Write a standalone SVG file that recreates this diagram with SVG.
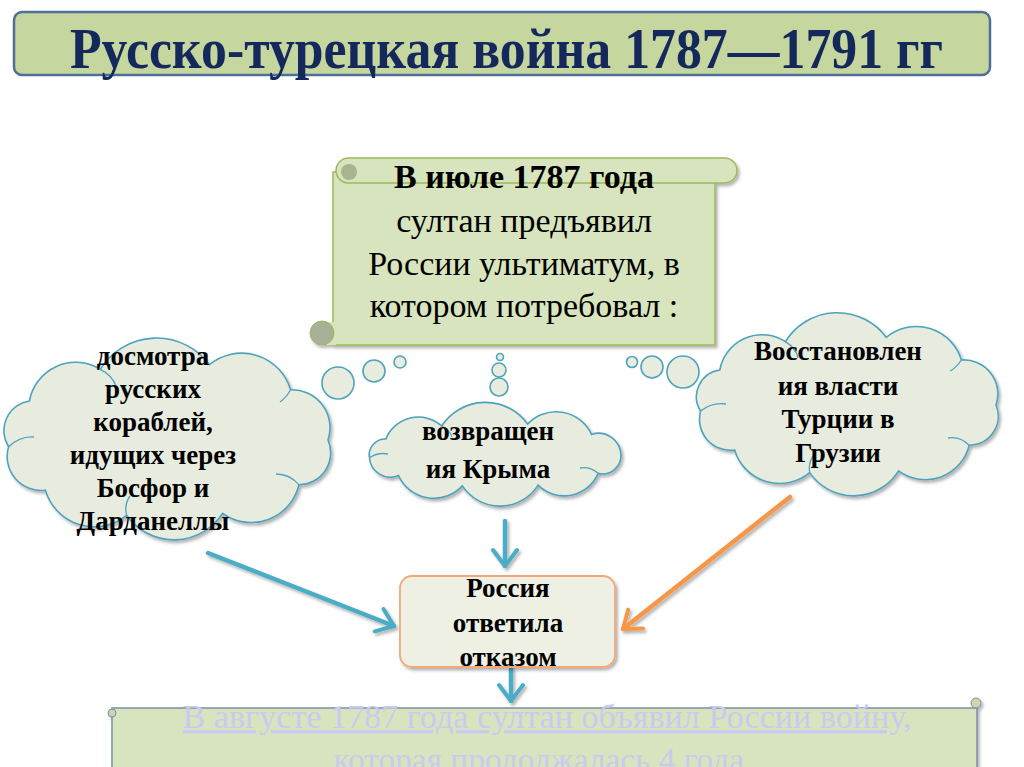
<svg xmlns="http://www.w3.org/2000/svg" width="1024" height="767" viewBox="0 0 1024 767">
<defs>
<filter id="sh" x="-10%" y="-10%" width="130%" height="130%"><feDropShadow dx="2" dy="2.5" stdDeviation="1.5" flood-color="#000" flood-opacity="0.3"/></filter>
<marker id="ab" markerWidth="8" markerHeight="10" refX="7" refY="5" orient="auto" markerUnits="userSpaceOnUse" viewBox="0 0 8 10" overflow="visible">
<path d="M-9,-7 L7,5 L-9,17" fill="none" stroke="#4bacc6" stroke-width="4" stroke-linecap="round" stroke-linejoin="round"/>
</marker>
<marker id="ao" markerWidth="8" markerHeight="10" refX="7" refY="5" orient="auto" markerUnits="userSpaceOnUse" viewBox="0 0 8 10" overflow="visible">
<path d="M-9,-7 L7,5 L-9,17" fill="none" stroke="#f79646" stroke-width="4" stroke-linecap="round" stroke-linejoin="round"/>
</marker>
</defs>
<style>
.cloud{fill:#e8ecdf;stroke:#4ea3bd;stroke-width:1.6}
.inner{fill:none;stroke:#4ea3bd;stroke-width:1.3}
.ct{font-family:"Liberation Serif","Times New Roman",serif;font-weight:bold;font-size:27px;fill:#000;text-anchor:middle}
.st{font-family:"Liberation Serif","Times New Roman",serif;font-size:34px;fill:#000;text-anchor:middle}
.scroll{fill:#d7e4bd;stroke:#9bbb59;stroke-width:1.5}
.conn{fill:none;stroke-width:4.5;stroke-linecap:round}
</style>
<rect width="1024" height="767" fill="#fff"/>

<g id="title">
<rect x="14" y="12" width="976" height="63" rx="8" fill="#c6d69f" stroke="#4f6f99" stroke-width="2.5"/>
<text x="70" y="68" font-family="Liberation Serif,'Times New Roman',serif" font-weight="bold" font-size="58" fill="#14285c" textLength="873" lengthAdjust="spacingAndGlyphs">Русско-турецкая война 1787—1791 гг</text>
</g>

<g id="ultimatum">
<g filter="url(#sh)">
<rect x="333" y="172" width="382" height="173" class="scroll"/>
<rect x="336" y="158" width="401" height="25" rx="12.5" class="scroll"/>
<circle cx="349" cy="172" r="8" fill="#a9b58f"/>
<rect x="322" y="322" width="14" height="23" fill="#d7e4bd"/>
<circle cx="322" cy="333" r="12" fill="#a8af97" stroke="#9bbb59" stroke-width="1"/>
</g>
<text class="st" font-weight="bold" x="524" y="188">В июле 1787 года</text>
<text class="st" x="524" y="232">султан предъявил</text>
<text class="st" x="524" y="275">России ультиматум, в</text>
<text class="st" x="524" y="317">котором потребовал :</text>
</g>

<g id="bubbles">
<circle cx="338" cy="383" r="16" class="cloud"/>
<circle cx="374" cy="371" r="11" class="cloud"/>
<circle cx="400" cy="362" r="6" class="cloud"/>
<circle cx="500" cy="357" r="3.5" class="cloud"/>
<circle cx="499" cy="370" r="7" class="cloud"/>
<circle cx="499" cy="387" r="9" class="cloud"/>
<circle cx="632" cy="362" r="5.5" class="cloud"/>
<circle cx="652" cy="367" r="11" class="cloud"/>
<circle cx="683" cy="372" r="16" class="cloud"/>
</g>

<g id="cloud-left">
<path class="cloud" filter="url(#sh)" d="M328,440 A32,32 0 0 1 299,484.8 A49,49 0 0 1 222.7,513.3 A58,58 0 0 1 126.6,515.3 A51,51 0 0 1 45.4,490.2 A34,34 0 0 1 8.6,446.8 A30,30 0 0 1 29.4,401 A47,47 0 0 1 100.3,369.3 A66,66 0 0 1 209.4,364.7 A51,51 0 0 1 290.6,389.8 A38,38 0 0 1 328,440 Z"/>
<path class="inner" d="M299,484.8 Q290,474 276,474 M126.6,515.3 Q124,504 130,496 M8.6,446.8 Q20,436 34,437 M100.3,369.3 Q112,375 116,386 M290.6,389.8 Q286,398 280,402"/>
<text class="ct" x="153" y="365">досмотра</text>
<text class="ct" x="153" y="398">русских</text>
<text class="ct" x="153" y="431">кораблей,</text>
<text class="ct" x="153" y="464">идущих через</text>
<text class="ct" x="153" y="497">Босфор и</text>
<text class="ct" x="153" y="530">Дарданеллы</text>
</g>

<g id="cloud-middle">
<path class="cloud" filter="url(#sh)" d="M621,455 A18.5,18.5 0 0 1 598.2,473.4 A37,37 0 0 1 538.1,485.1 A45,45 0 0 1 462.4,485.9 A39,39 0 0 1 398.5,475.6 A21,21 0 0 1 369.5,457.8 A16,16 0 0 1 385.9,439 A35,35 0 0 1 441.7,426 A52,52 0 0 1 527.6,424.1 A39,39 0 0 1 591.5,434.4 A22.5,22.5 0 0 1 621,455 Z"/>
<path class="inner" d="M598.2,473.4 Q590,466 580,468 M369.5,457.8 Q378,452 388,454 M441.7,426 Q450,430 452,437"/>
<text class="ct" x="488" y="440">возвращен</text>
<text class="ct" x="488" y="478">ия Крыма</text>
</g>

<g id="cloud-right">
<path class="cloud" filter="url(#sh)" d="M996,405 A29,29 0 0 1 969.2,445.2 A45,45 0 0 1 898.6,470.8 A53,53 0 0 1 809.7,472.6 A47,47 0 0 1 734.6,450 A31,31 0 0 1 700.6,411.1 A27,27 0 0 1 719.8,370 A43,43 0 0 1 785.4,341.6 A61,61 0 0 1 886.3,337.4 A47,47 0 0 1 961.4,360 A34,34 0 0 1 996,405 Z"/>
<path class="inner" d="M969.2,445.2 Q960,436 948,438 M809.7,472.6 Q808,462 814,455 M700.6,411.1 Q712,402 726,404 M785.4,341.6 Q796,348 798,358 M961.4,360 Q956,368 950,371"/>
<text class="ct" x="838" y="360">Восстановлен</text>
<text class="ct" x="838" y="395">ия власти</text>
<text class="ct" x="838" y="428">Турции в</text>
<text class="ct" x="838" y="462">Грузии</text>
</g>

<g id="connectors" filter="url(#sh)">
<line class="conn" x1="208" y1="553" x2="394" y2="626" stroke="#4bacc6" marker-end="url(#ab)"/>
<line class="conn" x1="505" y1="521" x2="505" y2="566" stroke="#4bacc6" marker-end="url(#ab)"/>
<line class="conn" x1="790" y1="497" x2="623" y2="629" stroke="#f79646" marker-end="url(#ao)"/>
<line class="conn" x1="511" y1="668" x2="511" y2="701" stroke="#4bacc6" marker-end="url(#ab)"/>
</g>

<g id="refusal">
<rect x="400" y="576" width="215" height="91" rx="12" fill="#eef0e4" stroke="#f2a878" stroke-width="1.8" filter="url(#sh)"/>
<text class="ct" x="508" y="597">Россия</text>
<text class="ct" x="508" y="632">ответила</text>
<text class="ct" x="508" y="666">отказом</text>
</g>

<g id="war">
<g filter="url(#sh)">
<rect x="112" y="708" width="865" height="70" fill="#d7e4bd" stroke="#7f8fa6" stroke-width="1.5"/>
<circle cx="112" cy="713" r="4" fill="#c9d6b0" stroke="#7f8fa6" stroke-width="1"/>
<circle cx="976" cy="703" r="5" fill="#c9d6b0" stroke="#7f8fa6" stroke-width="1"/>
</g>
<text x="547" y="728" text-anchor="middle" font-family="Liberation Serif,'Times New Roman',serif" font-size="33" fill="#cacaf0" text-decoration="underline" textLength="729" lengthAdjust="spacingAndGlyphs">В августе 1787 года султан объявил России войну,</text>
<text x="543" y="771" text-anchor="middle" font-family="Liberation Serif,'Times New Roman',serif" font-size="33" fill="#cacaf0" text-decoration="underline" textLength="419" lengthAdjust="spacingAndGlyphs">которая продолжалась 4 года.</text>
</g>
</svg>
